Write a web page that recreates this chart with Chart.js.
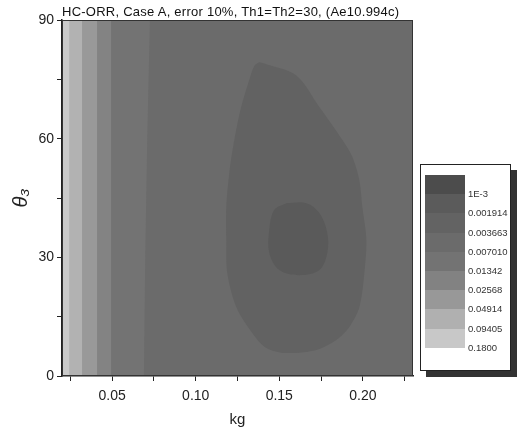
<!DOCTYPE html>
<html>
<head>
<meta charset="utf-8">
<script src="https://cdn.jsdelivr.net/npm/chart.js@4.4.0/dist/chart.umd.min.js"></script>
<style>
  body { margin: 0; background: #fff; }
  #wrap { position: relative; width: 517px; height: 433px; }
  #title { position: absolute; left: 62px; top: 4px; font: 13px "Liberation Sans", Arial, sans-serif; letter-spacing: 0.25px; color: #111; white-space: nowrap; }
  #legend { position: absolute; left: 420px; top: 164px; width: 89px; height: 205px; background: #fff;
            border: 1px solid #222; box-shadow: 6px 6px 0 #333; }
  .sw { position: absolute; left: 4px; width: 40px; }
  .lb { position: absolute; left: 47px; font: 9.5px "Liberation Sans", Arial, sans-serif; color: #333; white-space: nowrap; }
</style>
</head>
<body>
<div id="wrap">
  <canvas id="c" width="517" height="433"></canvas>
  <div id="title">HC-ORR, Case A, error 10%, Th1=Th2=30, (Ae10.994c)</div>
  <div id="legend"></div>
</div>
<script>
// 軸範圍與刻度
var xMin = 0.02, xMax = 0.23;
var yMin = 0, yMax = 90;
var xTicks = [0.025, 0.05, 0.075, 0.10, 0.125, 0.15, 0.175, 0.20, 0.225];
var xLabels = ['', '0.05', '', '0.10', '', '0.15', '', '0.20', ''];
var yTicks = [0, 15, 30, 45, 60, 75, 90];
var yLabels = ['0', '', '30', '', '60', '', '90'];

// 左側垂直色帶的左邊界 (kg)
var bandEdges = [0.02, 0.0243, 0.032, 0.041, 0.0494];

// 0.07 附近的等值線 (由上到下)
var band6Kg = [0.0726, 0.0710, 0.0698, 0.0690];
var band6Deg = [90, 60, 30, 0];

// 外圈等值線
var outerKg = [0.1380, 0.1410, 0.1602, 0.1740, 0.1877, 0.1937, 0.1979, 0.1997, 0.2021, 0.2009, 0.1979, 0.1919, 0.1841, 0.1722, 0.1542, 0.1422, 0.1338, 0.1243, 0.1189, 0.1183, 0.1183, 0.1201, 0.1231, 0.1272, 0.1320, 0.1350];
var outerDeg = [79.3, 79.0, 76.0, 68.0, 59.7, 55.4, 49.5, 42.7, 34.4, 26.0, 17.4, 12.4, 9.1, 6.6, 5.8, 7.1, 10.9, 17.4, 26.0, 34.4, 42.7, 51.3, 59.7, 68.0, 74.8, 78.4];

// 內圈等值線
var innerKg = [0.1542, 0.1662, 0.1740, 0.1787, 0.1787, 0.1740, 0.1620, 0.1500, 0.1440, 0.1440, 0.1470];
var innerDeg = [43.7, 43.7, 41.2, 36.2, 31.1, 26.8, 25.5, 26.8, 31.1, 36.9, 42.0];

// 圖例
var legendLabels = ['1E-3', '0.001914', '0.003663', '0.007010', '0.01342', '0.02568', '0.04914', '0.09405', '0.1800'];
var legendColors = ['#4c4c4c', '#5b5b5b', '#636363', '#6b6b6b', '#737373', '#828282', '#989898', '#b0b0b0', '#c8c8c8'];

// 各區塊顏色 (由淺到深)
var bandColors = ['#cacaca', '#b2b2b2', '#999999', '#838383', '#737373'];
var band6Color = '#6b6b6b';
var outerColor = '#626262';
var innerColor = '#5a5a5a';

function toPoints(xs, ys) {
    var pts = [];
    for (var i = 0; i < xs.length; i++) pts.push({x: xs[i], y: ys[i]});
    pts.push({x: xs[0], y: ys[0]});
    return pts;
}

function region(pts, color, tension) {
    return {
        data: pts,
        backgroundColor: color,
        borderWidth: 0,
        pointRadius: 0,
        showLine: true,
        fill: 'shape',
        tension: tension || 0
    };
}

// 資料集 (先列出的畫在最上面)
var datasets = [];
datasets.push(region(toPoints(innerKg, innerDeg), innerColor, 0.35));
datasets.push(region(toPoints(outerKg, outerDeg), outerColor, 0.3));
var b6x = band6Kg.concat([xMax, xMax]);
var b6y = band6Deg.concat([yMin, yMax]);
datasets.push(region(toPoints(b6x, b6y), band6Color, 0));
for (var i = bandEdges.length - 1; i >= 0; i--) {
    var e = bandEdges[i];
    datasets.push(region(toPoints([e, e, xMax, xMax], [yMin, yMax, yMax, yMin]), bandColors[i], 0));
}

// 圖框
var framePlugin = {
    id: 'frame',
    afterDatasetsDraw: function (chart) {
        var a = chart.chartArea, ctx = chart.ctx;
        ctx.save();
        ctx.strokeStyle = '#333';
        ctx.lineWidth = 1;
        ctx.strokeRect(a.left + 0.5, a.top + 0.5, a.right - a.left - 1, a.bottom - a.top - 1);
        ctx.restore();
    }
};

new Chart(document.getElementById('c'), {
    type: 'scatter',
    data: { datasets: datasets },
    options: {
        responsive: false,
        animation: false,
        layout: { padding: { left: 0, right: 104, top: 20, bottom: 0 } },
        plugins: { legend: { display: false }, tooltip: { enabled: false } },
        scales: {
            x: {
                min: xMin, max: xMax,
                afterBuildTicks: function (s) { s.ticks = xTicks.map(function (v) { return {value: v}; }); },
                afterFit: function (s) { s.height = 57; },
                grid: { drawOnChartArea: false, tickLength: 5, color: '#222' },
                border: { color: '#222', width: 1.5 },
                ticks: {
                    padding: 7, color: '#222', maxRotation: 0, autoSkip: false,
                    font: { family: 'Liberation Sans', size: 14 },
                    callback: function (v, i) { return xLabels[i]; }
                },
                title: { display: true, text: 'kg', color: '#222', padding: { top: 0, bottom: 4 },
                         font: { family: 'Liberation Sans', size: 15 } }
            },
            y: {
                min: yMin, max: yMax,
                afterBuildTicks: function (s) { s.ticks = yTicks.map(function (v) { return {value: v}; }); },
                afterFit: function (s) { s.width = 62; },
                grid: { drawOnChartArea: false, tickLength: 5, color: '#222' },
                border: { color: '#222', width: 1.5 },
                ticks: {
                    padding: 3, color: '#222', autoSkip: false,
                    font: { family: 'Liberation Sans', size: 14 },
                    callback: function (v, i) { return yLabels[i]; }
                },
                title: { display: true, text: 'θ₃', color: '#222', padding: { top: 9, bottom: 0 },
                         font: { family: 'Liberation Sans', size: 20, style: 'italic' } }
            }
        }
    },
    plugins: [framePlugin]
});

// 圖例色塊
var lg = document.getElementById('legend');
var swTop = 10, swH = 19.2;
for (var k = 0; k < legendColors.length; k++) {
    var sw = document.createElement('div');
    sw.className = 'sw';
    sw.style.top = (swTop + k * swH) + 'px';
    sw.style.height = (swH + 0.5) + 'px';
    sw.style.background = legendColors[k];
    lg.appendChild(sw);
    var lb = document.createElement('div');
    lb.className = 'lb';
    lb.style.top = (swTop + (k + 1) * swH - 6) + 'px';
    lb.textContent = legendLabels[k];
    lg.appendChild(lb);
}
</script>
</body>
</html>
